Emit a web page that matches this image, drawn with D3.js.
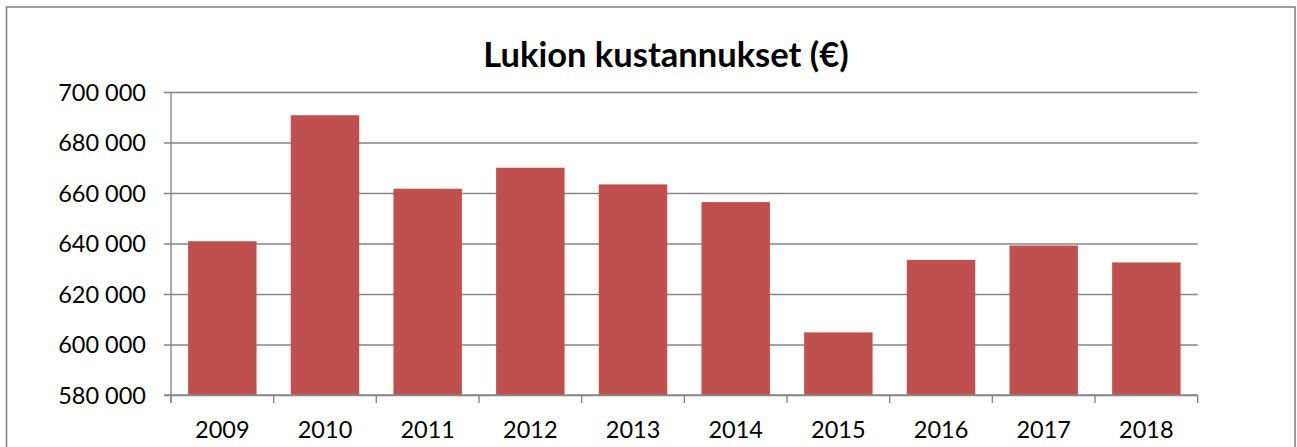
<!DOCTYPE html>
<html>
<head>
<meta charset="utf-8">
<script src="https://cdn.jsdelivr.net/npm/d3@7"></script>
<style>
  html, body { margin: 0; padding: 0; background: #fff; }
  svg { display: block; font-family: Lato, "Open Sans", sans-serif; }
</style>
</head>
<body>
<div id="chart"></div>
<script>
const years = ['2009', '2010', '2011', '2012', '2013', '2014', '2015', '2016', '2017', '2018']
const costs = [640900, 690800, 661700, 670000, 663400, 656400, 604800, 633500, 639200, 632500]
const yTicks = [580000, 600000, 620000, 640000, 660000, 680000, 700000]
const title = 'Lukion kustannukset (€)'

const width = 1297
const height = 447
const margin = { top: 92, right: 99.3, bottom: 52, left: 171 }
const gridColor = '#868686'

const svg = d3.select('#chart').append('svg')
  .attr('width', width)
  .attr('height', height)

// chart frame (bottom edge falls outside the picture)
svg.append('rect')
  .attr('x', 6.5)
  .attr('y', 7)
  .attr('width', 1288.5)
  .attr('height', 460)
  .attr('fill', 'none')
  .attr('stroke', gridColor)
  .attr('stroke-width', 1.6)

svg.append('text')
  .attr('x', 666)
  .attr('y', 67)
  .attr('text-anchor', 'middle')
  .attr('font-size', 34.5)
  .attr('font-weight', 'bold')
  .attr('fill', '#000')
  .text(title)

const x = d3.scaleBand()
  .domain(years)
  .range([margin.left, width - margin.right])
  .paddingInner(1 / 3)
  .paddingOuter(1 / 6)

const y = d3.scaleLinear()
  .domain([580000, 700000])
  .range([height - margin.bottom, margin.top])

const fmt = d => d3.format(',')(d).replace(/,/g, ' ')

// gridlines + left ticks
const yAxis = svg.append('g')
  .attr('transform', `translate(${margin.left},0)`)
  .call(d3.axisLeft(y).tickValues(yTicks).tickSize(0).tickPadding(10).tickFormat(fmt))
  .attr('font-family', null)
  .attr('font-size', null)

yAxis.select('.domain').remove()
yAxis.selectAll('.tick line')
  .attr('x1', -7)
  .attr('x2', width - margin.right - margin.left)
  .attr('stroke', gridColor)
  .attr('stroke-width', 1.4)
yAxis.selectAll('.tick text')
  .attr('font-size', 23.5)
  .attr('fill', '#000')
  .attr('x', -25)
  .attr('dy', '0.35em')

// bars
svg.append('g')
  .selectAll('rect')
  .data(years)
  .enter().append('rect')
  .attr('x', d => x(d))
  .attr('width', x.bandwidth())
  .attr('y', (d, i) => y(costs[i]))
  .attr('height', (d, i) => y(580000) - y(costs[i]))
  .attr('fill', '#C0504D')

// vertical axis line
svg.append('line')
  .attr('x1', margin.left).attr('x2', margin.left)
  .attr('y1', y(700000)).attr('y2', y(580000) + 8)
  .attr('stroke', gridColor)
  .attr('stroke-width', 1.4)

// category axis
const xAxis = svg.append('g')
  .attr('transform', `translate(0,${y(580000)})`)
  .call(d3.axisBottom(x).tickSize(0).tickPadding(26))
  .attr('font-family', null)
  .attr('font-size', null)

xAxis.select('.domain').remove()
xAxis.append('line')
  .attr('x1', margin.left - 7).attr('x2', width - margin.right)
  .attr('stroke', gridColor)
  .attr('stroke-width', 1.4)

const step = x.step()
xAxis.selectAll('.sep')
  .data(d3.range(years.length + 1))
  .enter().append('line')
  .attr('x1', i => margin.left + i * step)
  .attr('x2', i => margin.left + i * step)
  .attr('y1', 0)
  .attr('y2', 8)
  .attr('stroke', gridColor)
  .attr('stroke-width', 1.4)

xAxis.selectAll('.tick text')
  .attr('font-size', 23.5)
  .attr('fill', '#000')
  .attr('dy', '0.71em')
</script>
</body>
</html>
